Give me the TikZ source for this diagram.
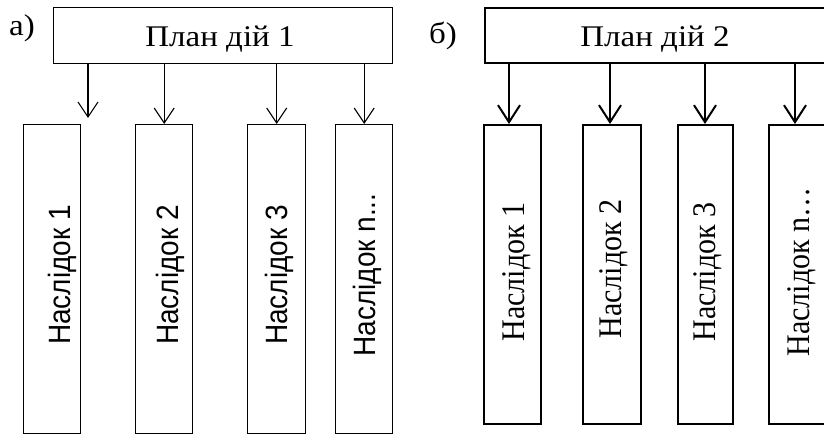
\documentclass[tikz,border=0pt]{standalone}
\usepackage{fontspec}
\setmainfont{Liberation Serif}
\newfontfamily\sansf{Liberation Sans}
\usetikzlibrary{arrows.meta}
\tikzset{
  boxa/.style={draw=black, line width=1.4pt, inner sep=0pt, anchor=north west},
  boxb/.style={draw=black, line width=1.7pt, inner sep=0pt, anchor=north west},
  arra/.style={line width=1.1pt, -{Straight Barb[length=15pt,width=20pt,line width=1.1pt]}},
  arrb/.style={line width=2pt, -{Straight Barb[length=17pt,width=22pt,line width=2pt]}},
  serift/.style={inner sep=0pt, anchor=base, font=\fontsize{30}{36}\selectfont},
  sanst/.style={inner sep=0pt, anchor=base, rotate=90, font=\sansf\fontsize{28}{34}\selectfont},
  vserif/.style={inner sep=0pt, anchor=base, rotate=90, font=\fontsize{30}{36}\selectfont},
}
\newcommand{\hs}[1]{\scalebox{1.1}[1]{#1}}
\newcommand{\vs}[1]{\scalebox{1}[1.1]{#1}}
\begin{document}
\begin{tikzpicture}[x=1pt,y=-1pt]
\useasboundingbox (0,0) rectangle (824,435);
% ---- panel a
\node[serift] (la) at (22,36) {\hs{а)}};
\node[boxa, minimum width=339pt, minimum height=56pt] (pa) at (53,7) {};
\node[serift] (pat) at (220,47) {\hs{План дій 1}};
\node[boxa, minimum width=57pt, minimum height=309pt] (a1) at (23,124) {};
\node[boxa, minimum width=57pt, minimum height=309pt] (a2) at (135,124) {};
\node[boxa, minimum width=58pt, minimum height=309pt] (a3) at (247,124) {};
\node[boxa, minimum width=57pt, minimum height=309pt] (a4) at (335,124) {};
\node[sanst] (a1t) at (70,275) {\vs{Наслідок 1}};
\node[sanst] (a2t) at (178,275) {\vs{Наслідок 2}};
\node[sanst] (a3t) at (287,275) {\vs{Наслідок 3}};
\node[sanst] (a4t) at (375,275) {\vs{Наслідок n...}};
\coordinate (e1) at (88,118);
\draw[arra] (pa.south -| e1) -- (e1);
\draw[arra] (pa.south -| a2.north) -- (a2.north);
\draw[arra] (pa.south -| a3.north) -- (a3.north);
\draw[arra] (pa.south -| a4.north) -- (a4.north);
% ---- panel b
\node[serift] (lb) at (443,44) {\hs{б)}};
\node[boxb, minimum width=350pt, minimum height=55pt] (pb) at (484,7) {};
\node[serift] (pbt) at (655,47) {\hs{План дій 2}};
\node[boxb, minimum width=57pt, minimum height=299pt] (b1) at (483,124) {};
\node[boxb, minimum width=58pt, minimum height=299pt] (b2) at (582,124) {};
\node[boxb, minimum width=55pt, minimum height=299pt] (b3) at (677,124) {};
\node[boxb, minimum width=60pt, minimum height=299pt] (b4) at (768,124) {};
\node[vserif] (b1t) at (524,272) {\vs{Наслідок 1}};
\node[vserif] (b2t) at (621,269) {\vs{Наслідок 2}};
\node[vserif] (b3t) at (715,272) {\vs{Наслідок 3}};
\node[vserif] (b4t) at (809,272) {\vs{Наслідок n…}};
\coordinate (f1) at (509,124);
\coordinate (f2) at (610,124);
\coordinate (f3) at (705,124);
\coordinate (f4) at (795,124);
\draw[arrb] (pb.south -| f1) -- (b1.north -| f1);
\draw[arrb] (pb.south -| f2) -- (b2.north -| f2);
\draw[arrb] (pb.south -| f3) -- (b3.north -| f3);
\draw[arrb] (pb.south -| f4) -- (b4.north -| f4);
\end{tikzpicture}
\end{document}
